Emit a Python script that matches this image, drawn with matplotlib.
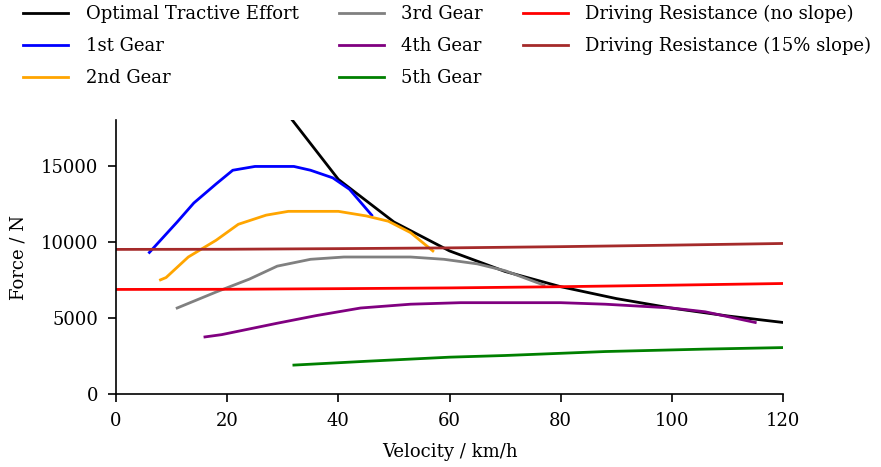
import matplotlib
matplotlib.use("Agg")
import matplotlib.pyplot as plt

plt.rcParams['font.family'] = ['DejaVu Serif']
plt.rcParams['font.size'] = 13

# Optimal tractive effort (traction hyperbola)
v_opt = [30, 40, 50, 60, 70, 80, 90, 100, 110, 120]
f_opt = [18800, 14100, 11300, 9400, 8050, 7050, 6270, 5640, 5130, 4700]

# Tractive effort per gear
v_g1 = [6, 11, 14, 18, 21, 25, 32, 35, 39, 42, 46]
f_g1 = [9300, 11300, 12550, 13800, 14700, 14950, 14950, 14700, 14200, 13450, 11750]

v_g2 = [8, 9, 13, 18, 22, 27, 31, 40, 45, 49, 53, 57]
f_g2 = [7500, 7650, 9000, 10100, 11150, 11750, 12000, 12000, 11700, 11350, 10600, 9400]

v_g3 = [11, 18, 24, 29, 35, 41, 53, 59, 65, 70, 77]
f_g3 = [5650, 6700, 7550, 8400, 8850, 9000, 9000, 8850, 8550, 8100, 7150]

v_g4 = [16, 19, 29, 36, 44, 53, 62, 80, 88, 100, 106, 115]
f_g4 = [3750, 3900, 4650, 5150, 5650, 5900, 6000, 6000, 5900, 5650, 5400, 4700]

v_g5 = [32, 45, 60, 70, 88, 106, 120]
f_g5 = [1900, 2150, 2420, 2530, 2790, 2950, 3050]

# Driving resistance
v_res = [0, 20, 40, 60, 80, 100, 120]
f_res_flat = [6870, 6880, 6920, 6970, 7050, 7150, 7260]
f_res_slope = [9500, 9510, 9550, 9600, 9680, 9780, 9890]

fig = plt.figure(figsize=(8.81, 4.67), dpi=100)
ax = fig.add_axes([0.1317, 0.1563, 0.7571, 0.5867])

lw = 2.0
ax.plot(v_opt, f_opt, color='black', lw=lw, label='Optimal Tractive Effort')
ax.plot(v_g1, f_g1, color='blue', lw=lw, label='1st Gear')
ax.plot(v_g2, f_g2, color='orange', lw=lw, label='2nd Gear')
ax.plot(v_g3, f_g3, color='gray', lw=lw, label='3rd Gear')
ax.plot(v_g4, f_g4, color='purple', lw=lw, label='4th Gear')
ax.plot(v_g5, f_g5, color='green', lw=lw, label='5th Gear')
ax.plot(v_res, f_res_flat, color='red', lw=lw, label='Driving Resistance (no slope)')
ax.plot(v_res, f_res_slope, color='brown', lw=lw, label='Driving Resistance (15% slope)')

ax.set_xlim(0, 120)
ax.set_ylim(0, 18000)
ax.set_xticks([0, 20, 40, 60, 80, 100, 120])
ax.set_yticks([0, 5000, 10000, 15000])
ax.set_xlabel('Velocity / km/h', labelpad=9)
ax.set_ylabel('Force / N', labelpad=9)

for side in ['top', 'right']:
    ax.spines[side].set_visible(False)
for side in ['left', 'bottom']:
    ax.spines[side].set_linewidth(1.2)
ax.tick_params(length=6, width=1.2, pad=7)

fig.legend(loc='upper left', bbox_to_anchor=(0.008, 1.025), ncol=3, frameon=False,
           handlelength=2.5, handletextpad=0.95, columnspacing=2.22, labelspacing=0.78)

fig.savefig('out.png', dpi=100)
